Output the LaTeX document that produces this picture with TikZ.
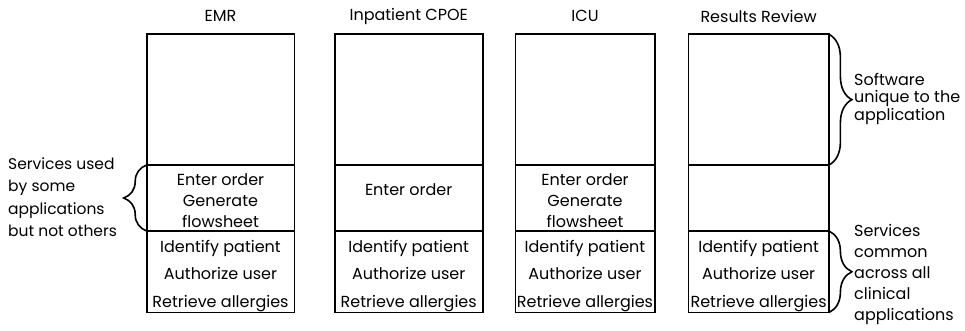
\documentclass[tikz,border=0pt]{standalone}
\usepackage{fontspec}
\setmainfont{Poppins}
\usetikzlibrary{decorations.pathreplacing}
\begin{document}
\begin{tikzpicture}[x=1pt,y=-1pt,
  sect/.style={draw, line width=1.6pt, rectangle, inner sep=0pt, outer sep=0pt},
  midtext/.style={align=center, inner sep=0pt, font=\fontsize{16}{21}\selectfont},
  lowtext/.style={align=center, inner sep=0pt, font=\fontsize{16}{27.5}\selectfont},
  heading/.style={font=\fontsize{16}{18}\selectfont},
  sidetext/.style={align=left, anchor=north west, inner sep=0pt,
    font=\fontsize{15.5}{22.4}\selectfont},
  bracket/.style={decorate, decoration={brace, amplitude=23pt}, line width=1.6pt}]
\useasboundingbox (0,0) rectangle (965,331);

% one application column: name, centre x, width, title, shared services, their centre y
\newcommand{\appcolumn}[6]{%
  \node[sect, minimum width=#3, minimum height=130.7] (#1top) at (#2,99.65) {};
  \node[sect, minimum width=#3, minimum height=66] (#1mid) at (#2,198) {};
  \node[sect, minimum width=#3, minimum height=81.5] (#1low) at (#2,271.75) {};
  \node[midtext] (#1shared) at (#2,#6) {#5};
  \node[lowtext] (#1common) at (#2,276)
    {Identify patient\\Authorize user\\Retrieve allergies};
  \node[heading] (#1title) at (#2,16) {#4};
}

\appcolumn{emr}{220.5}{147.6}{EMR}{Enter order\\Generate\\flowsheet}{201}
\appcolumn{cpoe}{408.7}{148}{Inpatient CPOE}{Enter order}{190}
\appcolumn{icu}{585}{139.4}{ICU}{Enter order\\Generate\\flowsheet}{201}
\appcolumn{rr}{758.6}{140.6}{Results Review}{}{198}

% braces pointing at their explanations
\draw[bracket] (emrmid.south west) -- (emrmid.north west);
\draw[bracket] (rrtop.north east) -- (rrtop.south east);
\draw[bracket] (rrlow.north east) -- (rrlow.south east);

\node[sidetext] (leftnote) at (8,157.5) {Services used\\by some\\applications\\but not others};
\node[sidetext, font=\fontsize{16}{17.5}\selectfont] (topnote) at (854,73) {Software\\unique to the\\application};
\node[sidetext, font=\fontsize{16}{21}\selectfont] (lownote) at (854,224) {Services\\common\\across all\\clinical\\applications};
\end{tikzpicture}
\end{document}
